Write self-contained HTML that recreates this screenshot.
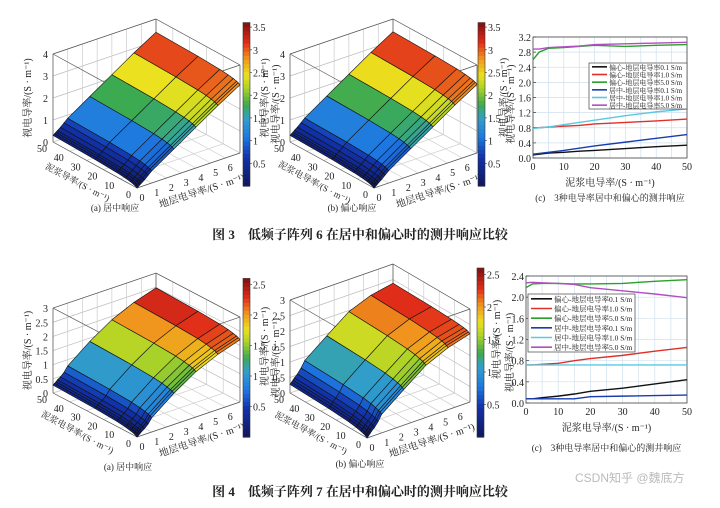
<!DOCTYPE html>
<html><head><meta charset="utf-8">
<style>
html,body{margin:0;padding:0;background:#fff;}
svg{display:block;font-family:"Liberation Serif","Noto Serif CJK SC","Noto Sans CJK SC",serif;}
</style></head>
<body>
<svg id="fig" width="720" height="508" viewBox="0 0 720 508" xmlns="http://www.w3.org/2000/svg">
<rect width="720" height="508" fill="#fff"/>
<text x="360" y="239" text-anchor="middle" font-size="13" font-weight="bold" fill="#222">图 3　低频子阵列 6 在居中和偏心时的测井响应比较</text>
<text x="360" y="496" text-anchor="middle" font-size="13" font-weight="bold" fill="#222">图 4　低频子阵列 7 在居中和偏心时的测井响应比较</text>
<text x="575" y="482" font-size="12" fill="#bbb" font-family="Liberation Sans, Noto Sans CJK SC, sans-serif">CSDN知乎 @魏底方</text>
</svg>
<script>
// ===== 3D surface data =====
const formationGrid = [0, 0.1, 0.2, 0.3, 0.5, 0.75, 1, 2.5, 4, 5.5, 7];
const slurryGrid = [0, 1, 2, 4, 7, 12, 25, 50];
// rows: formation, cols: slurry
const fig3CenterZ = [
 [0,.05,.08,.12,.16,.2,.25,.3],
 [.05,.1,.13,.17,.21,.25,.3,.35],
 [.1,.15,.18,.22,.26,.3,.35,.4],
 [.15,.2,.23,.27,.31,.35,.4,.45],
 [.25,.3,.33,.37,.41,.45,.5,.55],
 [.4,.45,.48,.52,.56,.6,.65,.7],
 [.55,.6,.63,.67,.71,.75,.8,.85],
 [1.2,1.25,1.28,1.32,1.36,1.4,1.45,1.5],
 [1.85,1.9,1.93,1.97,2.01,2.05,2.1,2.15],
 [2.5,2.55,2.58,2.62,2.66,2.7,2.75,2.8],
 [3.1,3.15,3.18,3.22,3.26,3.3,3.35,3.4]];
const fig3EccZ = [
 [0,.05,.08,.12,.16,.2,.25,.3],
 [.05,.1,.13,.17,.21,.25,.3,.35],
 [.1,.15,.18,.22,.26,.3,.35,.4],
 [.16,.21,.24,.28,.32,.36,.41,.46],
 [.26,.31,.34,.38,.42,.46,.51,.56],
 [.41,.46,.49,.53,.57,.61,.66,.71],
 [.56,.61,.64,.68,.72,.76,.81,.86],
 [1.22,1.27,1.3,1.34,1.38,1.42,1.47,1.52],
 [1.87,1.92,1.95,1.99,2.03,2.07,2.12,2.17],
 [2.52,2.57,2.6,2.64,2.68,2.72,2.77,2.82],
 [3.12,3.17,3.2,3.24,3.28,3.32,3.37,3.42]];
const fig4CenterZ = [
 [0,.04,.07,.1,.14,.18,.23,.28],
 [.04,.08,.11,.14,.18,.22,.27,.32],
 [.08,.12,.15,.18,.22,.26,.31,.36],
 [.13,.17,.2,.23,.27,.31,.36,.41],
 [.2,.24,.27,.3,.34,.38,.43,.48],
 [.32,.36,.39,.42,.46,.5,.55,.6],
 [.5,.54,.57,.6,.64,.68,.73,.78],
 [1.1,1.14,1.17,1.2,1.24,1.28,1.33,1.38],
 [1.6,1.64,1.67,1.7,1.74,1.78,1.83,1.88],
 [1.95,1.99,2.02,2.05,2.09,2.13,2.18,2.23],
 [2.2,2.24,2.27,2.3,2.34,2.38,2.43,2.48]];
const fig4EccZ = [
 [0,.04,.07,.1,.14,.18,.23,.28],
 [.05,.09,.12,.15,.19,.23,.28,.33],
 [.1,.14,.17,.2,.24,.28,.33,.38],
 [.16,.2,.23,.26,.3,.34,.39,.44],
 [.25,.29,.32,.35,.39,.43,.48,.53],
 [.4,.44,.47,.5,.54,.58,.63,.68],
 [.6,.64,.67,.7,.74,.78,.83,.88],
 [1.15,1.19,1.22,1.25,1.29,1.33,1.38,1.43],
 [1.68,1.72,1.75,1.78,1.82,1.86,1.91,1.96],
 [2.0,2.04,2.07,2.1,2.13,2.16,2.2,2.24],
 [2.2,2.23,2.26,2.28,2.3,2.32,2.35,2.38]];
const fig3ZTicks = [0,1,2,3,4];
const fig4ZTicks = [0,0.5,1,1.5,2,2.5,3];
const fig3CbTicks = [0.5,1,1.5,2,2.5,3,3.5];
const fig4CbTicks = [0.5,1,1.5,2,2.5];
const slurryTicks = [0,10,20,30,40,50];
const formationTicks = [0,1,2,3,4,5,6];

// ===== line chart data =====
const slurryX = [0,2,5,10,15,20,30,40,50];
const seriesNames = ['偏心-地层电导率0.1 S/m','偏心-地层电导率1.0 S/m','偏心-地层电导率5.0 S/m','居中-地层电导率0.1 S/m','居中-地层电导率1.0 S/m','居中-地层电导率5.0 S/m'];
const seriesColors = ['#111','#e0302a','#2aa02a','#1a3cb0','#5cc8e0','#b050c0'];
const fig3Ecc01 = [0.08,0.10,0.13,0.15,0.18,0.20,0.25,0.30,0.34];
const fig3Ecc10 = [0.80,0.80,0.82,0.84,0.86,0.90,0.94,0.98,1.03];
const fig3Ecc50 = [2.60,2.80,2.90,2.92,2.95,2.98,2.95,2.98,3.00];
const fig3Cen01 = [0.10,0.12,0.15,0.20,0.26,0.32,0.42,0.52,0.62];
const fig3Cen10 = [0.78,0.80,0.82,0.88,0.94,1.00,1.12,1.22,1.30];
const fig3Cen50 = [2.88,2.88,2.92,2.94,2.96,3.00,3.02,3.04,3.06];
const fig4Ecc01 = [0.08,0.08,0.10,0.13,0.17,0.22,0.28,0.36,0.44];
const fig4Ecc10 = [0.72,0.72,0.73,0.75,0.80,0.84,0.90,0.98,1.05];
const fig4Ecc50 = [2.18,2.25,2.26,2.26,2.25,2.25,2.26,2.30,2.33];
const fig4Cen01 = [0.08,0.08,0.08,0.08,0.08,0.12,0.13,0.14,0.15];
const fig4Cen10 = [0.72,0.72,0.72,0.72,0.72,0.72,0.72,0.72,0.72];
const fig4Cen50 = [2.27,2.28,2.27,2.26,2.24,2.18,2.12,2.06,1.99];
const fig3YTicks = [0,0.4,0.8,1.2,1.6,2.0,2.4,2.8,3.2];
const fig4YTicks = [0,0.4,0.8,1.2,1.6,2.0,2.4];
const lineXTicks = [0,10,20,30,40,50];

const NS='http://www.w3.org/2000/svg';
const svg=document.getElementById('fig');
function mk(tag,attrs,parent){const e=document.createElementNS(NS,tag);for(const k in attrs)e.setAttribute(k,attrs[k]);(parent||svg).appendChild(e);return e;}
function txt(s,x,y,size,anchor,parent,extra){const e=mk('text',Object.assign({x:x,y:y,'font-size':size,'text-anchor':anchor||'start',fill:'#222'},extra||{}),parent);e.textContent=s;return e;}

const cmapStops=[[0,[16,22,90]],[0.18,[18,50,170]],[0.3,[30,120,225]],[0.42,[50,160,200]],[0.5,[60,170,80]],[0.6,[170,210,40]],[0.68,[235,225,30]],[0.78,[240,150,30]],[0.88,[225,45,25]],[1,[130,15,15]]];
function jet(t){t=Math.max(0,Math.min(1,t));
 for(let k=1;k<cmapStops.length;k++){if(t<=cmapStops[k][0]){const a=cmapStops[k-1],b=cmapStops[k];const u=(t-a[0])/(b[0]-a[0]);
  const c=a[1].map((v,i)=>Math.round(v+(b[1][i]-v)*u));return 'rgb('+c.join(',')+')';}}
 return 'rgb(130,15,15)';}

function draw3D(cfg){
 const g=mk('g',{});
 
 
 const smax=50,fmax=7;
 const P=(s,f,z)=>[cfg.ox+s/smax*cfg.sv[0]+f/fmax*cfg.fv[0], cfg.oy+s/smax*cfg.sv[1]+f/fmax*cfg.fv[1]-z*cfg.zs];
 const line=(a,b,col,w)=>mk('line',{x1:a[0],y1:a[1],x2:b[0],y2:b[1],stroke:col,'stroke-width':w||0.7},g);
 const zt=cfg.zmax;
 cfg.zTicks.forEach(z=>{line(P(50,0,z),P(50,fmax,z),'#bbb');line(P(50,fmax,z),P(0,fmax,z),'#bbb');});
 slurryTicks.forEach(s=>{line(P(s,fmax,0),P(s,fmax,zt),'#ccc');line(P(s,0,0),P(s,fmax,0),'#ccc');});
 formationTicks.concat([fmax]).forEach(f=>{line(P(50,f,0),P(50,f,zt),'#ccc');line(P(0,f,0),P(50,f,0),'#ccc');});
 line(P(50,0,0),P(50,0,zt),'#555');line(P(0,fmax,0),P(0,fmax,zt),'#555');line(P(50,fmax,0),P(50,fmax,zt),'#555');
 line(P(0,0,0),P(0,0,zt),'#555');
 line(P(50,0,zt),P(50,fmax,zt),'#555');line(P(50,fmax,zt),P(0,fmax,zt),'#555');
 line(P(0,0,zt),P(50,0,zt),'#555');line(P(0,0,zt),P(0,fmax,zt),'#555');
 line(P(0,0,0),P(50,0,0),'#555');line(P(0,0,0),P(0,fmax,0),'#555');
 const quads=[];
 for(let i=0;i<formationGrid.length-1;i++)for(let j=0;j<slurryGrid.length-1;j++)quads.push([i,j]);
 const depth=q=>(formationGrid[q[0]]+formationGrid[q[0]+1])/14+(slurryGrid[q[1]]+slurryGrid[q[1]+1])/100;
 quads.sort((a,b)=>depth(b)-depth(a));
 quads.forEach(([i,j])=>{
  const Z=cfg.z;
  const c=[[i,j],[i+1,j],[i+1,j+1],[i,j+1]];
  const pts=c.map(([a,b])=>P(slurryGrid[b],formationGrid[a],Z[a][b]));
  const avg=c.reduce((s,[a,b])=>s+Z[a][b],0)/4;
  const p=mk('polygon',{points:pts.map(p=>p.join(',')).join(' '),fill:jet(avg/cfg.cmax),stroke:'#111','stroke-width':0.6,'stroke-linejoin':'round'},g);
  
  
 });
 cfg.zTicks.forEach(z=>{const p=P(50,0,z);txt(String(z),p[0]-5,p[1]+4,10,'end',g);});
 slurryTicks.forEach(s=>{const p=P(s,0,0);txt(String(s),p[0]-6,p[1]+10,10,'end',g);});
 formationTicks.forEach(f=>{const p=P(0,f,0);txt(String(f),p[0]+5,p[1]+13,10,'middle',g);});
 const sp=P(25,0,0);
 const sx=sp[0]-19,sy=sp[1]+20;
 txt(cfg.sTitle,sx,sy,9,'middle',g,{transform:'rotate(28 '+sx+' '+sy+')'});
 const fp=P(0,4.2,0);
 const fx=fp[0]+4,fy=fp[1]+27;
 txt('地层电导率/(S · m⁻¹)',fx,fy,10,'middle',g,{transform:'rotate(-18 '+fx+' '+fy+')'});
 const zp=P(50,0,zt/2);
 txt('视电导率/(S · m⁻¹)',zp[0]-22,zp[1],10,'middle',g,{transform:'rotate(-90 '+(zp[0]-22)+' '+zp[1]+')'});
 const cb=mk('g',{},g);
 
 
 const n=40,top=cfg.cby0-cfg.cmax*cfg.cbpx;
 for(let k=0;k<n;k++){const v0=k/n*cfg.cmax;const y=cfg.cby0-(k+1)/n*cfg.cmax*cfg.cbpx;
  mk('rect',{x:cfg.cbx,y:y,width:7,height:cfg.cmax*cfg.cbpx/n+0.6,fill:jet((v0+cfg.cmax/n/2)/cfg.cmax)},cb);}
 mk('rect',{x:cfg.cbx,y:top,width:7,height:cfg.cmax*cfg.cbpx,fill:'none',stroke:'#333','stroke-width':0.6},cb);
 cfg.cbTicks.forEach(v=>{const y=cfg.cby0-v*cfg.cbpx;mk('line',{x1:cfg.cbx+7,y1:y,x2:cfg.cbx+9,y2:y,stroke:'#333','stroke-width':0.6},cb);txt(String(v),cfg.cbx+10,y+4,10,'start',cb);});
 const my=(cfg.cby0+top)/2;
 txt('视电导率/(S · m⁻¹)',cfg.cbx+36,my,10,'middle',cb,{transform:'rotate(-90 '+(cfg.cbx+36)+' '+my+')'});
 txt(cfg.caption,cfg.capx,cfg.capy,9,'middle',g,{'xml:space':'preserve'});
}

draw3D({name:'fig3a-3d-surface',ox:137,oy:188,sv:[-84,-46],fv:[103,-35],zs:22,zmax:4,z:fig3CenterZ,zTicks:fig3ZTicks,cmax:3.6,cbx:243,cby0:186,cbpx:45.4,cbTicks:fig3CbTicks,sTitle:'泥浆导率/(S · m⁻¹)',caption:'(a)      居中响应',capx:115,capy:211});
draw3D({name:'fig3b-3d-surface',ox:374,oy:188,sv:[-84,-46],fv:[103,-35],zs:22,zmax:4,z:fig3EccZ,zTicks:fig3ZTicks,cmax:3.6,cbx:478,cby0:186,cbpx:45.4,cbTicks:fig3CbTicks,sTitle:'泥浆电导率/(S · m⁻¹)',caption:'(b)      偏心响应',capx:352,capy:211});
draw3D({name:'fig4a-3d-surface',ox:137,oy:437,sv:[-84,-44],fv:[103,-35],zs:28.3,zmax:3,z:fig4CenterZ,zTicks:fig4ZTicks,cmax:2.6,cbx:243,cby0:437,cbpx:61,cbTicks:fig4CbTicks,sTitle:'泥浆电导率/(S · m⁻¹)',caption:'(a)      居中响应',capx:128,capy:470});
draw3D({name:'fig4b-3d-surface',ox:367,oy:438,sv:[-77,-45],fv:[103,-36],zs:31,zmax:3,z:fig4EccZ,zTicks:fig4ZTicks,cmax:2.6,cbx:477,cby0:437,cbpx:65,cbTicks:fig4CbTicks,sTitle:'泥浆电导率/(S · m⁻¹)',caption:'(b)      偏心响应',capx:360,capy:467});

function drawLine(cfg){
 const g=mk('g',{});
 
 
 const X=v=>cfg.x0+v/50*(cfg.x1-cfg.x0);
 const Y=v=>cfg.y0-v/cfg.ymax*(cfg.y0-cfg.y1);
 cfg.yTicks.forEach(v=>{mk('line',{x1:cfg.x0,y1:Y(v),x2:cfg.x1,y2:Y(v),stroke:'#cfe0ee','stroke-width':0.7},g);
  txt(v.toFixed(1),cfg.x0-2,Y(v)+4,10,'end',g);
  mk('line',{x1:cfg.x0,y1:Y(v),x2:cfg.x0+3,y2:Y(v),stroke:'#333','stroke-width':0.7},g);});
 for(let v=0;v<=50;v+=5)mk('line',{x1:X(v),y1:cfg.y0,x2:X(v),y2:cfg.y1,stroke:'#cfe0ee','stroke-width':0.7},g);
 lineXTicks.forEach(v=>txt(String(v),X(v),cfg.y0+12,10,'middle',g));
 mk('rect',{x:cfg.x0,y:cfg.y1,width:cfg.x1-cfg.x0,height:cfg.y0-cfg.y1,fill:'none',stroke:'#444','stroke-width':0.8},g);
 cfg.series.forEach((arr,k)=>{
  const p=mk('polyline',{points:arr.map((v,i)=>X(slurryX[i])+','+Y(v)).join(' '),fill:'none',stroke:seriesColors[k],'stroke-width':1.4},g);
  
  
 });
 const L=cfg.leg;
 const lg=mk('g',{},g);
 
 
 mk('rect',{x:L.x,y:L.y,width:L.w,height:L.h,fill:'#fff',stroke:'#444','stroke-width':0.7},lg);
 seriesNames.forEach((nm,k)=>{const y=L.y+L.h/6*(k+0.5);
  const e=mk('line',{x1:L.x+3,y1:y,x2:L.x+L.lw,y2:y,stroke:seriesColors[k],'stroke-width':1.6},lg);
  
  
  txt(nm,L.x+L.lw+2,y+3,L.fs,'start',lg);});
 txt('泥浆电导率/(S · m⁻¹)',(cfg.x0+cfg.x1)/2,cfg.y0+28,10,'middle',g);
 const my=(cfg.y0+cfg.y1)/2;
 txt('视电导率/(S · m⁻¹)',cfg.x0-26,my,10,'middle',g,{transform:'rotate(-90 '+(cfg.x0-26)+' '+my+')'});
 txt('(c)　3种电导率居中和偏心的测井响应',(cfg.x0+cfg.x1)/2,cfg.capy,9,'middle',g);
}
drawLine({name:'fig3c-line-chart',x0:533,x1:687,y0:158,y1:37,ymax:3.2,yTicks:fig3YTicks,series:[fig3Ecc01,fig3Ecc10,fig3Ecc50,fig3Cen01,fig3Cen10,fig3Cen50],leg:{x:589,y:63,w:98,h:46,lw:18,fs:7},capy:201});
drawLine({name:'fig4c-line-chart',x0:526,x1:687,y0:403,y1:276,ymax:2.4,yTicks:fig4YTicks,series:[fig4Ecc01,fig4Ecc10,fig4Ecc50,fig4Cen01,fig4Cen10,fig4Cen50],leg:{x:528,y:294,w:107,h:58,lw:24,fs:7.5},capy:451});
</script>
</body></html>
